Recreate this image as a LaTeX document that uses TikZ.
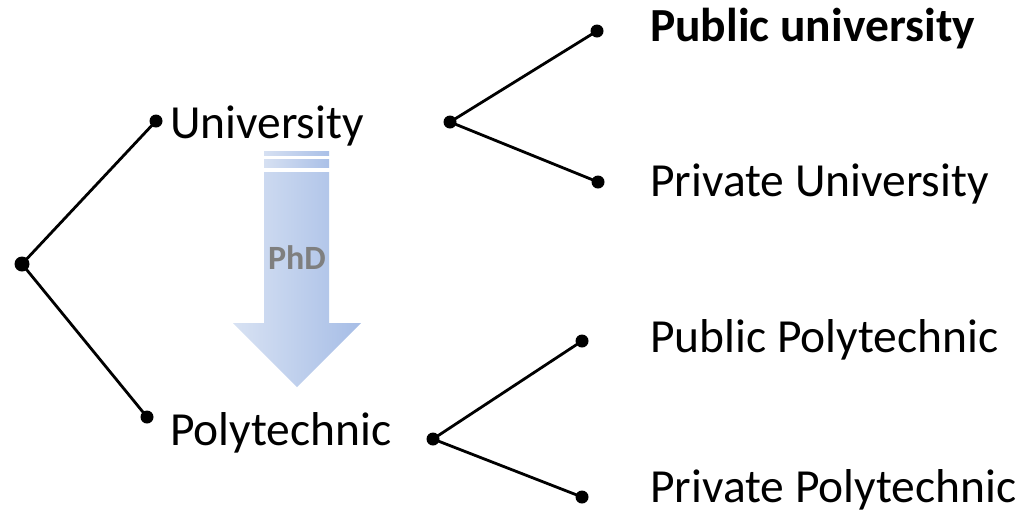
\documentclass[tikz,border=0pt]{standalone}
\usepackage{fontspec}
\setmainfont{Carlito}
\begin{document}
\begin{tikzpicture}[x=1pt,y=-1pt,
  dot/.style={circle,fill=black,inner sep=0pt,minimum size=13pt},
  lbl/.style={anchor=base west,inner sep=0pt,font=\fontsize{47.5}{56}\selectfont},
  link/.style={line width=2.8pt}]
\useasboundingbox (0,0) rectangle (1027,515);
% arrow
\shade[left color={rgb,255:red,216;green,226;blue,243}, right color={rgb,255:red,166;green,189;blue,230}]
  (264,172) -- (329,172) -- (329,323) -- (361,323) -- (297,387) -- (233,323) -- (264,323) -- cycle;
\shade[left color={rgb,255:red,214;green,224;blue,242}, right color={rgb,255:red,170;green,192;blue,231}]
  (264,159) rectangle (329,167);
\shade[left color={rgb,255:red,214;green,224;blue,242}, right color={rgb,255:red,170;green,192;blue,231}]
  (264,151) rectangle (329,155);
\node[font=\bfseries\fontsize{34}{40}\selectfont,text={rgb,255:red,127;green,127;blue,127}] (phd) at (297,258) {PhD};
% dots
\node[dot,minimum size=15pt] (root) at (22,264) {};
\node[dot] (uni) at (156,121) {};
\node[dot] (poly) at (147,417) {};
\node[dot] (unib) at (450,122) {};
\node[dot] (pubu) at (597,31) {};
\node[dot] (priu) at (598,182) {};
\node[dot] (polyb) at (433,439) {};
\node[dot] (pubp) at (582,341) {};
\node[dot] (prip) at (582,497) {};
% links
\draw[link] (root.center) -- (uni.center);
\draw[link] (root.center) -- (poly.center);
\draw[link] (unib.center) -- (pubu.center);
\draw[link] (unib.center) -- (priu.center);
\draw[link] (polyb.center) -- (pubp.center);
\draw[link] (polyb.center) -- (prip.center);
% labels
\node[lbl] (tuni) at (170,138) {University};
\node[lbl] (tpoly) at (170,445) {Polytechnic};
\node[lbl,font=\bfseries\fontsize{47.5}{56}\selectfont] (tpubu) at (650,41) {Public university};
\node[lbl] (tpriu) at (650,196) {Private University};
\node[lbl] (tpubp) at (650,352) {Public Polytechnic};
\node[lbl] (tprip) at (650,502) {Private Polytechnic};
\end{tikzpicture}
\end{document}
